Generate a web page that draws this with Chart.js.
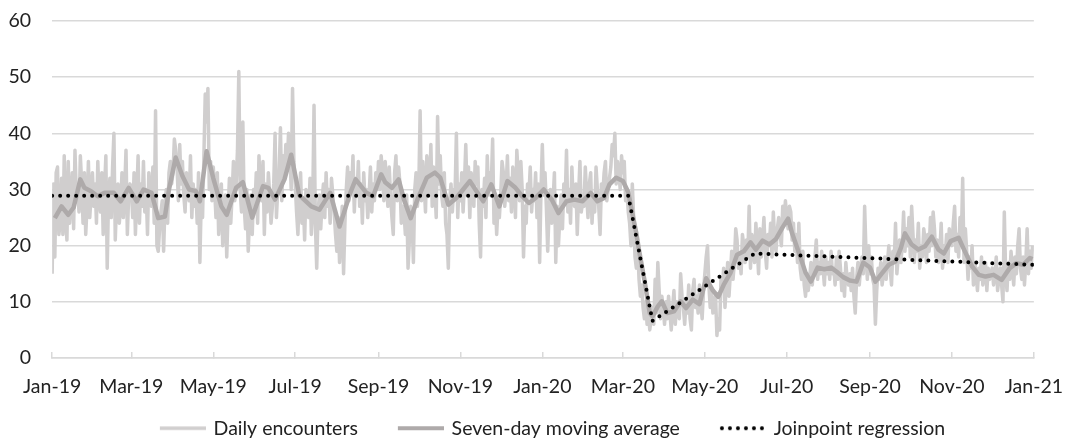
<!DOCTYPE html>
<html>
<head>
<meta charset="utf-8">
<title>Daily encounters</title>
<script src="https://cdn.jsdelivr.net/npm/chart.js@4.4.1/dist/chart.umd.min.js"></script>
<style>
  html, body { margin: 0; padding: 0; background: #fff; }
  canvas { display: block; }
</style>
</head>
<body>
<canvas id="chart" width="1086" height="438"></canvas>
<script>
// Daily encounters, one value per day from 1 Jan 2019 (day 0) to 31 Dec 2020 (day 730)
const dailyEncounters = [
  // 2019
  15,31,18,33,34,22,24,32,22,36,25,21,35,24,28,33,23,37,29,30,26,36,31,24,33,22,27,35,25,29,33, // Jan
  27,31,24,35,28,26,33,22,30,36,16,29,32,25,34,40,21,28,31,24,27,33,25,30,37,22,29,31,          // Feb
  30,25,33,22,29,36,24,31,27,35,26,30,22,33,29,27,34,24,44,20,19,23,26,28,19,27,30,24,33,35,31, // Mar
  33,39,37,34,28,38,31,35,29,26,33,30,28,36,25,31,27,30,24,33,17,28,25,36,47,42,48,30,35,28,    // Apr
  34,30,25,33,22,27,31,20,24,29,18,26,32,24,29,35,28,31,37,51,30,26,42,27,23,30,19,25,29,22,30, // May
  27,33,24,36,30,28,35,22,31,26,33,29,24,27,31,40,25,30,33,41,28,36,32,38,34,40,37,30,48,35,    // Jun
  31,26,22,29,33,24,28,21,30,26,25,32,22,27,45,24,16,26,29,23,28,31,25,33,27,30,24,32,29,26,22, // Jul
  19,25,17,22,27,15,24,30,34,28,33,30,36,26,32,29,35,27,31,24,33,28,30,25,29,34,26,31,28,33,30, // Aug
  35,30,36,33,28,35,31,27,34,29,25,22,33,36,28,34,31,24,27,26,22,29,16,21,27,25,17,30,33,27,    // Sep
  30,44,28,35,31,26,36,33,29,38,27,34,30,25,43,31,36,29,27,33,24,22,16,28,31,26,30,29,40,25,31, // Oct
  28,33,26,31,38,29,34,25,33,30,27,35,31,34,24,18,30,27,32,25,36,29,33,31,39,24,28,22,27,25,    // Nov
  29,35,33,27,30,36,28,32,26,34,31,25,37,33,28,35,30,18,27,24,31,29,34,26,30,28,33,25,31,17,30, // Dec
  // 2020
  38,29,33,27,19,26,30,24,28,33,17,27,20,25,29,23,31,28,37,26,30,24,34,28,27,31,22,29,35,26,28, // Jan
  27,34,29,25,31,33,24,29,26,34,30,27,22,31,29,33,35,28,30,32,34,38,36,40,31,35,33,30,36,       // Feb
  33,35,28,30,26,24,20,31,25,18,16,20,14,11,13,9,7,10,6,8,5,7,9,6,14,8,17,12,7,11,9,            // Mar
  6,10,7,11,8,5,9,12,6,10,8,7,15,11,9,6,10,8,13,7,5,12,14,9,11,8,13,10,7,12,                    // Apr
  15,18,20,13,9,12,8,10,11,4,7,5,14,12,16,9,13,17,11,15,19,14,17,23,21,16,18,15,22,20,17,       // May
  21,18,27,16,22,19,17,24,20,15,23,18,21,25,19,16,22,20,24,18,26,21,19,23,25,22,20,27,24,28,    // Jun
  25,23,27,26,21,24,19,22,17,24,16,14,19,13,11,15,12,14,17,13,16,18,21,14,17,15,19,16,13,18,15, // Jul
  17,14,19,15,16,13,18,14,19,16,12,15,11,17,14,13,15,12,16,11,8,14,17,13,16,18,15,27,19,14,20,  // Aug
  15,18,14,13,6,12,16,14,17,13,15,18,14,17,20,16,13,19,17,24,15,18,21,17,20,26,19,23,20,25,     // Sep
  18,27,22,17,21,19,24,16,20,18,23,21,17,22,19,25,20,26,23,18,21,17,19,24,16,20,18,22,17,23,21, // Oct
  20,24,27,19,22,18,25,21,32,17,23,19,14,18,16,20,13,17,15,12,16,14,18,13,15,17,12,16,14,15,    // Nov
  16,13,15,18,12,14,16,13,10,26,15,12,17,14,19,16,13,18,15,20,23,16,14,18,13,17,23,15,19,16,20  // Dec
];

// Seven-day moving average at its turning points
const maDays = [2,7,12,16,21,24,29,34,39,46,51,57,63,68,74,79,84,87,92,97,102,107,110,115,120,126,130,137,142,149,
  157,161,166,173,178,184,193,199,207,214,222,226,234,239,245,248,253,258,262,267,272,279,285,289,295,301,306,311,316,321,
  327,333,339,345,350,355,360,366,372,377,383,389,395,401,406,411,415,420,425,429,431,435,437,441,445,447,451,454,458,463,
  468,472,477,482,487,492,496,500,505,510,515,520,524,529,534,539,544,548,551,556,561,565,570,575,580,584,589,594,599,604,
  609,613,618,623,628,632,635,640,645,650,655,660,664,669,675,679,685,690,695,701,707,713,718,723,728,730];
const maValues = [24.9,27.0,25.5,26.8,31.8,30.3,29.7,28.8,29.4,29.4,27.9,30.3,27.9,30.0,29.4,24.9,25.2,30.0,35.7,32.4,
  30.0,29.7,27.9,36.8,32.0,27.0,25.5,30.3,31.3,25.0,30.6,30.3,28.2,31.8,36.2,29.0,27.0,26.4,29.4,23.4,
  29.4,31.8,29.4,28.8,32.7,31.3,30.3,31.8,28.2,24.9,28.2,32.1,33.0,32.1,27.3,28.5,30.0,31.5,29.7,27.9,
  30.9,27.0,31.5,30.3,28.8,27.6,28.5,30.0,28.2,25.8,27.9,28.2,27.9,29.4,27.9,28.5,30.9,32.1,31.5,29.5,
  27.0,22.2,19.2,13.9,8.0,7.4,9.2,10.1,8.0,8.3,10.1,8.9,10.4,9.6,14.2,12.0,10.9,13.0,15.1,18.4,
  19.0,20.6,19.3,20.9,20.2,21.2,23.3,24.8,22.2,18.8,15.2,13.6,16.1,15.8,16.1,15.4,14.4,13.8,13.6,17.0,
  16.1,13.6,15.1,16.6,17.2,19.6,22.2,20.2,19.3,19.9,21.6,19.3,18.6,20.8,21.4,19.3,16.3,14.8,14.5,14.8,
  13.9,16.0,16.9,16.6,17.8,17.6];

// Joinpoint regression: the joinpoints and fitted values
const joinDays = [0, 429, 447, 523, 730];
const joinValues = [28.9, 28.9, 6.6, 18.6, 16.6];

// Axes
const tickDays = [0, 59, 120, 181, 243, 304, 365, 425, 486, 547, 609, 670, 731];
const tickLabels = ['Jan-19','Mar-19','May-19','Jul-19','Sep-19','Nov-19','Jan-20',
                    'Mar-20','May-20','Jul-20','Sep-20','Nov-20','Jan-21'];
const seriesNames = ['Daily encounters', 'Seven-day moving average', 'Joinpoint regression'];

const textColor = '#222';
const gridColor = '#d9d9d9';
Chart.defaults.font.family = 'Lato';
Chart.defaults.font.size = 19.5;
Chart.defaults.color = textColor;

// line samples for the legend
function legendIcon(color, width, dotted) {
    const c = document.createElement('canvas');
    c.width = 78;
    c.height = 8;
    const g = c.getContext('2d');
    g.strokeStyle = color;
    g.lineWidth = width;
    g.beginPath();
    if (dotted) {
        g.lineCap = 'round';
        g.setLineDash([0, 8]);
        g.moveTo(34, 4);
        g.lineTo(77, 4);
    } else {
        g.moveTo(32, 4);
        g.lineTo(78, 4);
    }
    g.stroke();
    return c;
}
const icons = [
    legendIcon('#d0cece', 3.5, false),
    legendIcon('#aeaaaa', 4, false),
    legendIcon('#000', 4, true)
];

// nudge the legend row so it sits where the original has it
const legendShift = {
    id: 'legendShift',
    afterLayout(chart) {
        chart.legend.left += 10;
        chart.legend.right += 10;
    }
};

new Chart(document.getElementById('chart'), {
    type: 'line',
    data: {
        datasets: [{
            label: seriesNames[0],
            data: dailyEncounters.map((y, x) => ({x, y})),
            borderColor: '#d0cece',
            borderWidth: 3.5,
            borderJoinStyle: 'round',
            order: 3
        }, {
            label: seriesNames[1],
            data: maDays.map((x, i) => ({x, y: maValues[i]})),
            borderColor: '#aeaaaa',
            borderWidth: 4.5,
            borderJoinStyle: 'round',
            order: 2
        }, {
            label: seriesNames[2],
            data: joinDays.map((x, i) => ({x, y: joinValues[i]})),
            borderColor: '#000',
            borderWidth: 4,
            borderDash: [0, 8],
            borderCapStyle: 'round',
            order: 1
        }]
    },
    options: {
        responsive: false,
        animation: false,
        events: [],
        parsing: false,
        elements: {
            point: { radius: 0, hoverRadius: 0 },
            line: { tension: 0, fill: false }
        },
        layout: { padding: { left: 0, right: 31, top: 21, bottom: -10 } },
        scales: {
            x: {
                type: 'linear',
                min: 0,
                max: 731,
                afterBuildTicks: s => { s.ticks = tickDays.map(v => ({value: v})); },
                afterFit: s => { s.height = 50.5; },
                ticks: {
                    autoSkip: false,
                    maxRotation: 0,
                    padding: 23,
                    callback: v => tickLabels[tickDays.indexOf(v)]
                },
                grid: { drawOnChartArea: false, tickLength: -6, color: gridColor, lineWidth: 1.5 },
                border: { color: gridColor, width: 1.5 }
            },
            y: {
                min: 0,
                max: 60,
                afterFit: s => {
                    s.width = 52;
                    // the label padding should not push the plot down
                    s.paddingTop = 10;
                    s.paddingBottom = 10;
                },
                ticks: { stepSize: 10, padding: 21 },
                grid: { color: gridColor, lineWidth: 1.5, drawTicks: false },
                border: { display: false }
            }
        },
        plugins: {
            tooltip: { enabled: false },
            legend: {
                position: 'bottom',
                labels: {
                    usePointStyle: true,
                    pointStyleWidth: 74,
                    padding: 10,
                    color: textColor,
                    generateLabels: chart => chart.data.datasets.map((ds, i) => ({
                        text: ds.label,
                        pointStyle: icons[i],
                        fillStyle: 'transparent',
                        strokeStyle: 'transparent',
                        lineWidth: 0,
                        fontColor: textColor,
                        hidden: false,
                        datasetIndex: i
                    }))
                }
            }
        }
    },
    plugins: [legendShift]
});
</script>
</body>
</html>
